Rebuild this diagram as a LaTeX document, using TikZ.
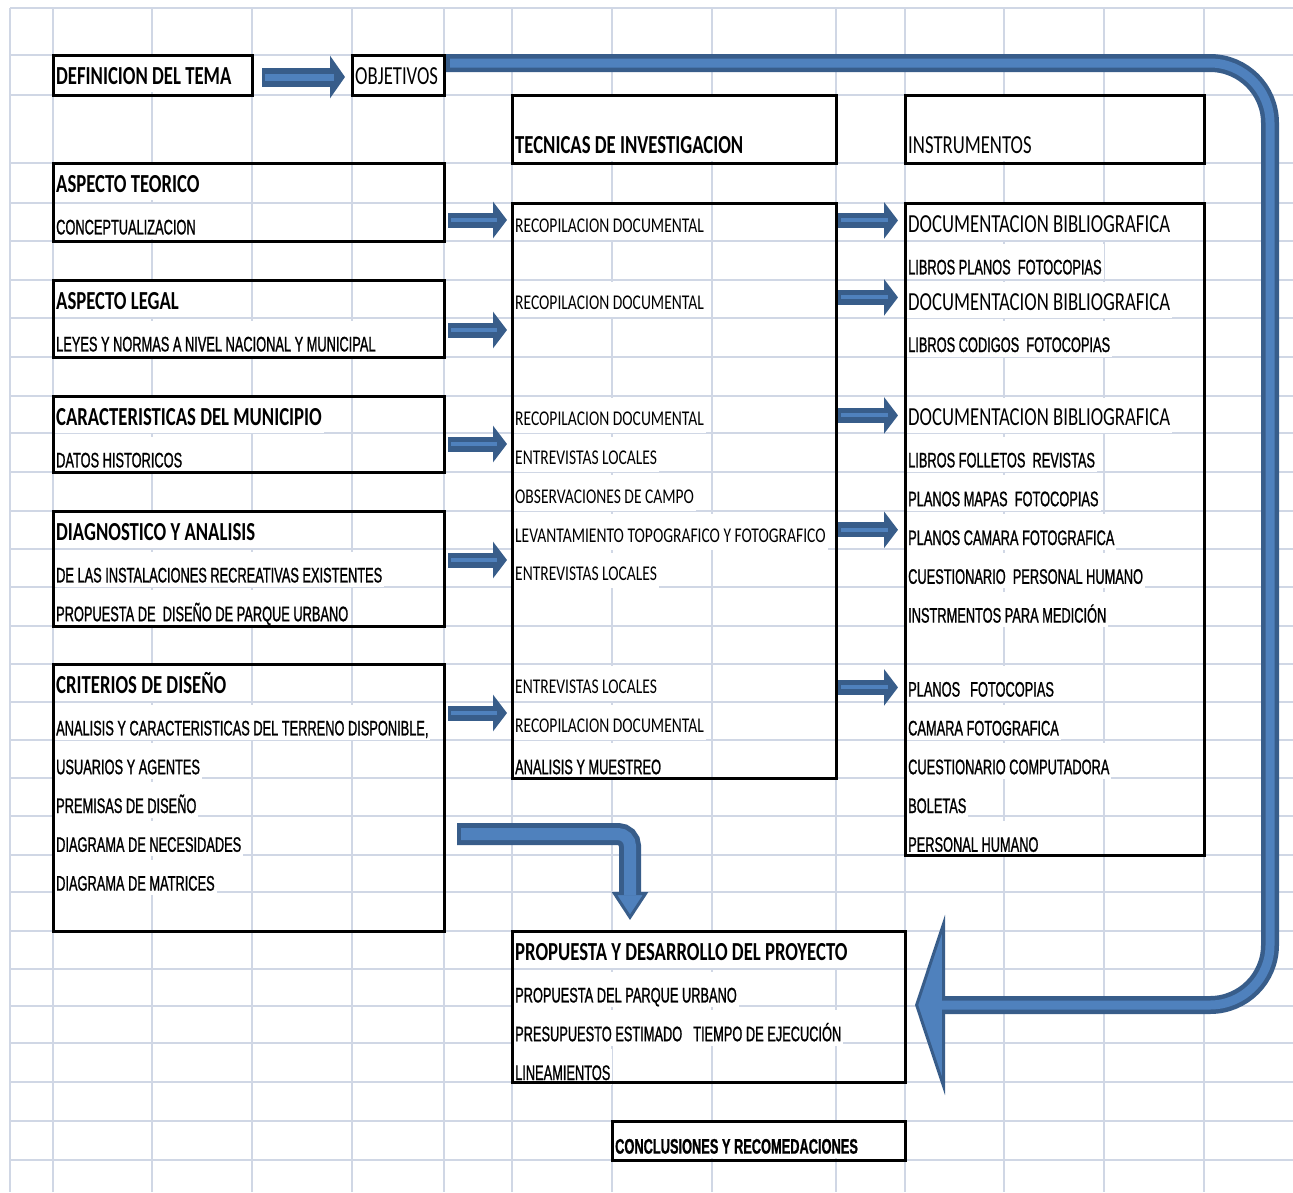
\documentclass[tikz,border=0pt]{standalone}
\usepackage{fontspec}
\setmainfont{Carlito}
\newfontfamily\calib[FakeStretch=0.72]{Carlito}
\newfontfamily\calibt[FakeStretch=0.74]{Carlito}
\newfontfamily\angosta[FakeStretch=0.61,FakeBold=1]{Liberation Sans}
\usetikzlibrary{arrows.meta,positioning,calc}
\definecolor{rejilla}{RGB}{208,215,229}
\definecolor{azul}{RGB}{79,129,189}
\definecolor{azulosc}{RGB}{56,93,138}

\begin{document}
\begin{tikzpicture}[x=1pt,y=-1pt,
    linea/.style={draw=rejilla,line width=1.5pt},
    celda/.style={fill=white,inner xsep=2pt,inner ysep=0pt,anchor=north west},
    titulo/.style={celda,font=\calib\bfseries\fontsize{26}{28}\selectfont,text height=27.9pt,text depth=7.5pt},
    texto/.style={celda,font=\calib\fontsize{26}{28}\selectfont,text height=27.9pt,text depth=7.5pt},
    tecnica/.style={celda,font=\calibt\fontsize{21}{24}\selectfont,text height=27.9pt,text depth=7.5pt},
    angosto/.style={celda,font=\angosta\fontsize{21}{24}\selectfont,text height=30.9pt,text depth=4.5pt},
    bajo/.style={below=3pt of #1.south west,anchor=north west},
    caja/.style={draw,line width=3pt,inner sep=0pt,outer sep=0pt,anchor=north west},
    flecha/.style={draw=azulosc,line width=15pt,-{Triangle[length=14pt,width=36pt]},
      postaction={draw=azul,line width=4pt,-,shorten >=10pt,shorten <=3pt}},
    flechab/.style={draw=azulosc,line width=19pt,-{Triangle[length=15pt,width=42pt]},
      postaction={draw=azul,line width=7pt,-,shorten >=11pt,shorten <=3pt}},
    codoflecha/.style={draw=azulosc,line width=22pt,rounded corners=12pt,shorten >=11pt,
      -{Triangle[length=28pt,width=36pt,fill=azul,line width=3pt]},
      postaction={draw=azul,line width=12pt,-,shorten >=36pt,shorten <=4pt}},
    lazo/.style={draw=azulosc,line width=18pt,rounded corners=60pt,shorten >=10pt,
      -{Triangle[length=30pt,width=180pt,fill=azul,line width=3pt]},
      postaction={draw=azul,line width=9pt,-,shorten >=37pt,shorten <=4pt}}]

\useasboundingbox (0,0) rectangle (1293,1192);
\fill[white] (0,0) rectangle (1293,1192);
\foreach \gx in {10,53,152,252,352,444,512,612,712,836,905,1004,1104,1204}
  \draw[linea] (\gx,8) -- (\gx,1192);
\foreach \gy in {8,55,95,163,203,241,280,318,357,396,433,472,511,549,587,626,664,702,740,778,816,855,892,931,969,1006,1043,1082,1121,1160}
  \draw[linea] (10,\gy) -- (1293,\gy);

\node [titulo] (def) at (54,56.5) {DEFINICION DEL TEMA};
\node [texto] (obj) at (353,56.5) {OBJETIVOS};
\node [titulo,text height=56pt] (tecn) at (513,97) {TECNICAS DE INVESTIGACION};
\node [texto,text height=56pt] (inst) at (906,97) {INSTRUMENTOS};

\node [titulo] (teo) at (54,164.5) {ASPECTO TEORICO};
\node [angosto,bajo=teo] (con) {CONCEPTUALIZACION};
\node [titulo] (leg) at (54,281.5) {ASPECTO LEGAL};
\node [angosto,bajo=leg] (ley) {LEYES Y NORMAS A NIVEL NACIONAL Y MUNICIPAL};
\node [titulo] (mun) at (54,397.5) {CARACTERISTICAS DEL MUNICIPIO};
\node [angosto,bajo=mun] (his) {DATOS HISTORICOS};
\node [titulo] (dia) at (54,512.5) {DIAGNOSTICO Y ANALISIS};
\node [angosto,bajo=dia] (exi) {DE LAS INSTALACIONES RECREATIVAS EXISTENTES};
\node [angosto,bajo=exi] (pdi) {PROPUESTA DE\ \ DISEÑO DE PARQUE URBANO};
\node [titulo] (cri) at (54,665.5) {CRITERIOS DE DISEÑO};
\node [angosto,bajo=cri] (ter) {ANALISIS Y CARACTERISTICAS DEL TERRENO DISPONIBLE,};
\node [angosto,bajo=ter] (usu) {USUARIOS Y AGENTES};
\node [angosto,bajo=usu] (pre) {PREMISAS DE DISEÑO};
\node [angosto,bajo=pre] (nec) {DIAGRAMA DE NECESIDADES};
\node [angosto,bajo=nec] (mat) {DIAGRAMA DE MATRICES};

\node [tecnica] (tc1) at (513,204.5) {RECOPILACION DOCUMENTAL};
\node [tecnica] (tc2) at (513,281.5) {RECOPILACION DOCUMENTAL};
\node [tecnica] (tc3) at (513,397.5) {RECOPILACION DOCUMENTAL};
\node [tecnica,bajo=tc3] (tc4) {ENTREVISTAS LOCALES};
\node [tecnica,bajo=tc4] (tc5) {OBSERVACIONES DE CAMPO};
\node [tecnica,bajo=tc5] (tc6) {LEVANTAMIENTO TOPOGRAFICO Y FOTOGRAFICO};
\node [tecnica,bajo=tc6] (tc7) {ENTREVISTAS LOCALES};
\node [tecnica] (tc8) at (513,665.5) {ENTREVISTAS LOCALES};
\node [tecnica,bajo=tc8] (tc9) {RECOPILACION DOCUMENTAL};
\node [angosto,bajo=tc9] (tc10) {ANALISIS Y MUESTREO};

\node [texto] (in1) at (906,204.5) {DOCUMENTACION BIBLIOGRAFICA};
\node [angosto,bajo=in1] (in2) {LIBROS PLANOS\ \ FOTOCOPIAS};
\node [texto,bajo=in2] (in3) {DOCUMENTACION BIBLIOGRAFICA};
\node [angosto,bajo=in3] (in4) {LIBROS CODIGOS\ \ FOTOCOPIAS};
\node [texto] (in5) at (906,397.5) {DOCUMENTACION BIBLIOGRAFICA};
\node [angosto,bajo=in5] (in6) {LIBROS FOLLETOS\ \ REVISTAS};
\node [angosto,bajo=in6] (in7) {PLANOS MAPAS\ \ FOTOCOPIAS};
\node [angosto,bajo=in7] (in8) {PLANOS CAMARA FOTOGRAFICA};
\node [angosto,bajo=in8] (in9) {CUESTIONARIO\ \ PERSONAL HUMANO};
\node [angosto,bajo=in9] (in10) {INSTRMENTOS PARA MEDICIÓN};
\node [angosto] (in11) at (906,665.5) {PLANOS\hspace{10pt}FOTOCOPIAS};
\node [angosto,bajo=in11] (in12) {CAMARA FOTOGRAFICA};
\node [angosto,bajo=in12] (in13) {CUESTIONARIO COMPUTADORA};
\node [angosto,bajo=in13] (in14) {BOLETAS};
\node [angosto,bajo=in14] (in15) {PERSONAL HUMANO};

\node [titulo] (pr1) at (513,932.5) {PROPUESTA Y DESARROLLO DEL PROYECTO};
\node [angosto,bajo=pr1] (pr2) {PROPUESTA DEL PARQUE URBANO};
\node [angosto,bajo=pr2] (pr3) {PRESUPUESTO ESTIMADO\hspace{11pt}TIEMPO DE EJECUCIÓN};
\node [angosto,bajo=pr3] (pr4) {LINEAMIENTOS};
\node [angosto,font=\angosta\bfseries\fontsize{21}{24}\selectfont] (pr5) at (613,1122.5) {CONCLUSIONES Y RECOMEDACIONES};

\node [caja,minimum width=199pt,minimum height=40pt] (fdef) at (53,55) {};
\node [caja,minimum width=92pt,minimum height=40pt] (fobj) at (352,55) {};
\node [caja,minimum width=324pt,minimum height=68pt] (ftec) at (512,95) {};
\node [caja,minimum width=299pt,minimum height=68pt] (fins) at (905,95) {};
\node [caja,minimum width=391pt,minimum height=78pt] (fteo) at (53,163) {};
\node [caja,minimum width=391pt,minimum height=77pt] (fleg) at (53,280) {};
\node [caja,minimum width=391pt,minimum height=76pt] (fmun) at (53,396) {};
\node [caja,minimum width=391pt,minimum height=115pt] (fdia) at (53,511) {};
\node [caja,minimum width=391pt,minimum height=267pt] (fcri) at (53,664) {};
\node [caja,minimum width=324pt,minimum height=575pt] (ftcb) at (512,203) {};
\node [caja,minimum width=299pt,minimum height=652pt] (finb) at (905,203) {};
\node [caja,minimum width=393pt,minimum height=151pt] (fpro) at (512,931) {};
\node [caja,minimum width=293pt,minimum height=39pt] (fcon) at (612,1121) {};

\coordinate (codo) at (630,834);
\coordinate (vuelta1) at (1270,63);
\coordinate (vuelta2) at (1270,1005);

\draw[flechab] ($(fdef.east)+(10,2)$) -- ($(fobj.west)+(-7,2)$);
\foreach \nd/\dy in {fteo/18,fleg/11.5,fmun/10,fdia/-8.5,fcri/-84.5}
  \draw[flecha] ($(\nd.east)+(4,\dy)$) -- ($(\nd.east -| ftcb.west)+(-5,\dy)$);
\foreach \nd/\dy in {tc1/-2,tc2/-2,tc3/0,tc6/-2,tc8/4}
  \draw[flecha] ($(\nd -| ftcb.east)+(2,\dy)$) -- ($(\nd -| finb.west)+(-7,\dy)$);
\draw[codoflecha] ($(fcri.east |- codo)+(13,0)$) -- (codo) -- (codo |- fpro.north);
\draw[lazo] ($(fobj.east)+(2,-12)$) -- (vuelta1) -- (vuelta2) -- (fpro.east |- vuelta2);
\end{tikzpicture}
\end{document}
